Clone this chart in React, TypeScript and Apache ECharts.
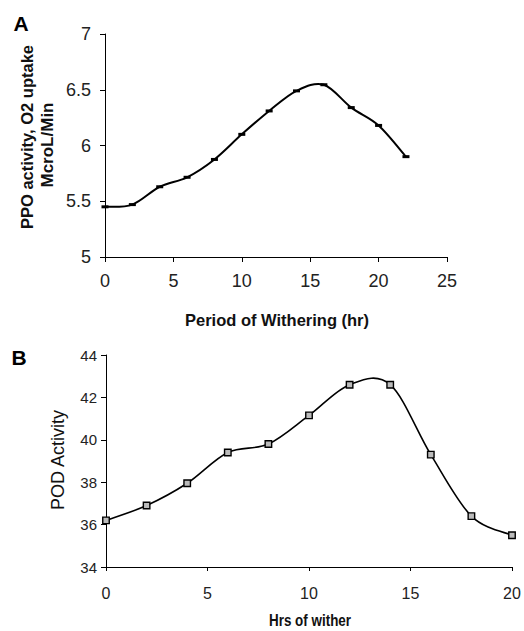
import React, { useEffect, useRef } from "react";
import * as echarts from "echarts";

const ppoHours = [0, 2, 4, 6, 8, 10, 12, 14, 16, 18, 20, 22];
const ppoValues = [5.45, 5.47, 5.63, 5.715, 5.875, 6.1, 6.31, 6.49, 6.545, 6.34, 6.18, 5.9];
const podHours = [0, 2, 4, 6, 8, 10, 12, 14, 16, 18, 20];
const podValues = [36.2, 36.9, 37.95, 39.4, 39.8, 41.15, 42.6, 42.6, 39.3, 36.4, 35.5];

const ppoXTicks = { min: 0, max: 25, interval: 5 };
const ppoYTicks = { min: 5, max: 7, interval: 0.5 };
const podXTicks = { min: 0, max: 20, interval: 5 };
const podYTicks = { min: 34, max: 44, interval: 2 };

const FONT = "Liberation Sans, Arial, Helvetica, sans-serif";

// Smooth curve through pixel points (Catmull-Rom, like a spreadsheet's smoothed line)
function smoothPath(pts: number[][]): string {
  let d = `M${pts[0][0]},${pts[0][1]}`;
  for (let i = 0; i < pts.length - 1; i++) {
    const p0 = pts[Math.max(0, i - 1)];
    const p1 = pts[i];
    const p2 = pts[i + 1];
    const p3 = pts[Math.min(pts.length - 1, i + 2)];
    const c1x = p1[0] + (p2[0] - p0[0]) / 6;
    const c1y = p1[1] + (p2[1] - p0[1]) / 6;
    const c2x = p2[0] - (p3[0] - p1[0]) / 6;
    const c2y = p2[1] - (p3[1] - p1[1]) / 6;
    d += ` C${c1x},${c1y} ${c2x},${c2y} ${p2[0]},${p2[1]}`;
  }
  return d;
}

function curveSeries(xIdx: number, xs: number[], ys: number[], width: number) {
  return {
    type: "custom",
    xAxisIndex: xIdx,
    yAxisIndex: xIdx,
    data: xs.map((h, i) => [h, ys[i]]),
    encode: { x: 0, y: 1 },
    silent: true,
    z: 2,
    renderItem: (params: any, api: any) => {
      if (params.dataIndex !== 0) return null;
      const pts = xs.map((h, i) => api.coord([h, ys[i]]));
      return {
        type: "path",
        shape: { pathData: smoothPath(pts) },
        style: { fill: "none", stroke: "#000", lineWidth: width },
      };
    },
  };
}

export default function App() {
  const ref = useRef<HTMLDivElement>(null);
  useEffect(() => {
    if (!ref.current) return;
    const chart = echarts.init(ref.current, undefined, { renderer: "svg" });
    const axisLine = { show: true, lineStyle: { color: "#000", width: 1 } };
    const axisTick = { show: true, inside: false, length: 5, lineStyle: { color: "#000", width: 1 } };
    chart.setOption({
      animation: false,
      backgroundColor: "#fff",
      grid: [
        { left: 105, width: 342, top: 34, height: 223 },
        { left: 106, width: 406, top: 355, height: 212 },
      ],
      xAxis: [
        {
          gridIndex: 0, type: "value", ...ppoXTicks,
          axisLine, axisTick, splitLine: { show: false },
          axisLabel: { color: "#222", fontFamily: FONT, fontSize: 18, margin: 15 },
        },
        {
          gridIndex: 1, type: "value", ...podXTicks,
          axisLine, axisTick: { ...axisTick, length: 4 }, splitLine: { show: false },
          axisLabel: { color: "#222", fontFamily: FONT, fontSize: 16, margin: 18 },
        },
      ],
      yAxis: [
        {
          gridIndex: 0, type: "value", ...ppoYTicks,
          axisLine, axisTick, splitLine: { show: false },
          axisLabel: { color: "#222", fontFamily: FONT, fontSize: 18, margin: 14 },
        },
        {
          gridIndex: 1, type: "value", ...podYTicks,
          axisLine, axisTick, splitLine: { show: false },
          axisLabel: { color: "#222", fontFamily: FONT, fontSize: 15, margin: 9 },
        },
      ],
      series: [
        curveSeries(0, ppoHours, ppoValues, 2),
        {
          type: "scatter", xAxisIndex: 0, yAxisIndex: 0,
          data: ppoHours.map((h, i) => [h, ppoValues[i]]),
          symbol: "rect", symbolSize: [7, 3],
          itemStyle: { color: "#000", opacity: 1 },
          z: 3,
        },
        curveSeries(1, podHours, podValues, 1.6),
        {
          type: "scatter", xAxisIndex: 1, yAxisIndex: 1,
          data: podHours.map((h, i) => [h, podValues[i]]),
          symbol: "rect", symbolSize: 6.5,
          itemStyle: { color: "#bbb", borderColor: "#000", borderWidth: 1.4, opacity: 1 },
          z: 3,
        },
      ],
      graphic: [
        { type: "text", x: 21, y: 23, style: { text: "A", font: `bold 21px ${FONT}`, fill: "#000", align: "center", verticalAlign: "middle" } },
        { type: "text", x: 19, y: 357, style: { text: "B", font: `bold 21px ${FONT}`, fill: "#000", align: "center", verticalAlign: "middle" } },
        { type: "text", x: 27, y: 137, rotation: Math.PI / 2, style: { text: "PPO activity, O2 uptake", font: `bold 16.5px ${FONT}`, fill: "#111", align: "center", verticalAlign: "middle" } },
        { type: "text", x: 47, y: 145, rotation: Math.PI / 2, style: { text: "McroL/Min", font: `bold 17px ${FONT}`, fill: "#111", align: "center", verticalAlign: "middle" } },
        { type: "text", x: 277, y: 320, style: { text: "Period of Withering (hr)", font: `bold 16.5px ${FONT}`, fill: "#111", align: "center", verticalAlign: "middle" } },
        { type: "text", x: 58, y: 460, rotation: Math.PI / 2, style: { text: "POD Activity", font: `18px ${FONT}`, fill: "#111", align: "center", verticalAlign: "middle" } },
        { type: "text", x: 310, y: 621, scaleX: 0.84, style: { text: "Hrs of wither", font: `bold 16px ${FONT}`, fill: "#111", align: "center", verticalAlign: "middle" } },
      ],
    });
    return () => chart.dispose();
  }, []);
  return (
    <div
      ref={ref}
      style={{ position: "fixed", left: 0, top: 0, width: 524, height: 631, background: "#fff" }}
    />
  );
}
